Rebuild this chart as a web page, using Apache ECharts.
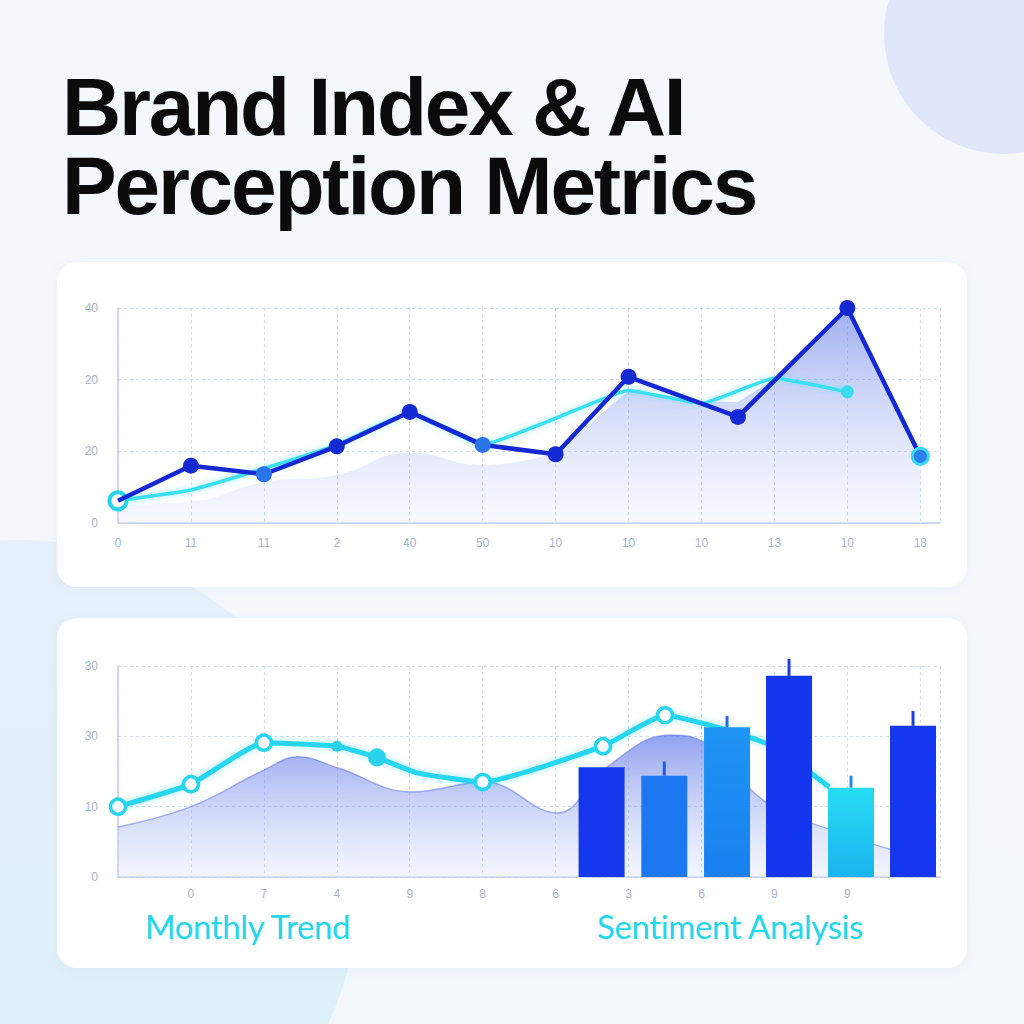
<!DOCTYPE html>
<html>
<head>
<meta charset="utf-8">
<script src="https://cdn.jsdelivr.net/npm/echarts@6/dist/echarts.min.js"></script>
<style>
html, body { margin: 0; padding: 0; }
body {
	width: 1024px; height: 1024px; position: relative; overflow: hidden;
	background: linear-gradient(180deg, #f4f8fd 0%, #f2f7fc 100%);
	font-family: 'Liberation Sans', Arial, sans-serif;
}
.blob1 { position: absolute; left: 884px; top: -86px; width: 240px; height: 240px; border-radius: 50%; background: #e1e7fb; }
.blob2 { position: absolute; left: -320px; top: 540px; width: 680px; height: 680px; border-radius: 50%; background: linear-gradient(180deg, #e7f0fb, #dbf1fa); }
.panel { position: absolute; left: 57px; width: 910px; background: rgba(255,255,255,0.97); border-radius: 20px; box-shadow: 0 2px 12px rgba(120,150,200,0.07); }
#p1 { top: 262px; height: 325px; }
#p2 { top: 618px; height: 350px; }
.title {
	position: absolute; left: 62px; margin: 0; white-space: nowrap;
	font-size: 82px; line-height: 78px; font-weight: bold; color: #0b0b0b; letter-spacing: -2.2px;
}
.tag { position: absolute; top: 905px; font-family: 'Lato', sans-serif; font-size: 33px; line-height: 42px; color: #22d6ec; letter-spacing: -0.4px; }
#chart { position: absolute; left: 0; top: 0; width: 1024px; height: 1024px; }
</style>
</head>
<body>
<div class="blob1"></div>
<div class="blob2"></div>
<div class="panel" id="p1"></div>
<div class="panel" id="p2"></div>
<div class="title" style="top:68px">Brand Index &amp; AI</div>
<div class="title" style="top:147px">Perception Metrics</div>
<div id="chart"></div>
<div class="tag" style="left:145px">Monthly Trend</div>
<div class="tag" style="left:597px">Sentiment Analysis</div>
<script>
// top chart
const topXLabels = ['0', '11', '11', '2', '40', '50', '10', '10', '10', '13', '10', '18']
const topYTicks = ['0', '20', '20', '40']
const brandX = [0, 1, 2, 3, 4, 5, 6, 7, 8.5, 10, 11]
const brandY = [3.1, 8.0, 6.8, 10.7, 15.5, 10.9, 9.6, 20.4, 14.8, 30.0, 9.3]
const perceptX = [0, 1, 2, 3, 4, 5, 6, 7, 8, 9, 10]
const perceptY = [3.1, 4.6, 7.6, 10.9, 15.3, 10.9, 14.6, 18.5, 16.7, 20.2, 18.3]
const fillLeftX = [0, 1, 2, 3, 4, 5, 6]
const fillLeftY = [2.5, 3.0, 5.7, 6.7, 9.8, 8.1, 9.8]
const fillRightX = [6, 7, 8, 8.5, 9, 10, 11]
const fillRightY = [9.8, 18.5, 17.0, 16.9, 20.1, 30, 9.3]

// bottom chart
const bottomXLabels = ['', '0', '7', '4', '9', '8', '6', '3', '6', '9', '9', '']
const bottomYTicks = ['0', '10', '30', '30']
const trendX = [0, 1, 2, 3, 3.55, 4.1, 5, 6.65, 7.5, 8.35, 9, 9.75]
const trendY = [10.0, 13.2, 19.1, 18.6, 17.0, 14.8, 13.5, 18.6, 23.0, 20.9, 18.5, 12.8]
const sentAreaX = [0, 1, 2, 2.47, 3.02, 4.02, 5.03, 6.02, 6.7, 7.56, 7.87, 8.9, 9.77, 10.63]
const sentAreaY = [7.1, 10, 15.2, 17.1, 15.5, 12.1, 13.5, 9.1, 15.6, 20.2, 19.9, 10.5, 6.7, 3.8]
const barX = [6.63, 7.49, 8.35, 9.2, 10.05, 10.9]
const barY = [15.6, 14.4, 21.3, 28.6, 12.7, 21.5]
const errTop = [null, 16.4, 22.9, 31.0, 14.4, 23.6]

function zip(xs, ys) {
	return xs.map(function (x, i) { return [x, ys[i]] })
}

const barColors = [
	'#1538ef',
	'#1b78f1',
	new echarts.graphic.LinearGradient(0, 0, 0, 1, [{ offset: 0, color: '#1e95f3' }, { offset: 1, color: '#1a80f0' }]),
	'#1436ee',
	new echarts.graphic.LinearGradient(0, 0, 0, 1, [{ offset: 0, color: '#27dcf3' }, { offset: 1, color: '#1ab4f0' }]),
	'#1538ee',
]
const whiskerColors = ['#1538ef', '#1a5fe6', '#1a6fe8', '#1a3fe2', '#1a8fe0', '#1a40e4']

const labelStyle = { color: '#a7b4d2', fontSize: 12, fontFamily: 'Liberation Sans' }
const splitStyle = { show: true, lineStyle: { color: '#d2daeb', type: [3, 3], width: 1 } }
const axisLineStyle = { show: true, lineStyle: { color: '#c3cdea', width: 1.5 } }

function xAxisFor(grid, labels, margin) {
	return {
		type: 'value', gridIndex: grid, min: 0, max: 11.27, interval: 1,
		axisLine: axisLineStyle, axisTick: { show: false }, splitLine: splitStyle,
		axisLabel: Object.assign({ margin: margin, formatter: function (v) { return Number.isInteger(v) ? (labels[v] || '') : '' } }, labelStyle),
	}
}
function yAxisFor(grid, ticks) {
	return {
		type: 'value', gridIndex: grid, min: 0, max: 30, interval: 10,
		axisLine: axisLineStyle, axisTick: { show: false }, splitLine: splitStyle,
		axisLabel: Object.assign({ margin: 20, formatter: function (v) { return ticks[v / 10] } }, labelStyle),
	}
}

const topFill = new echarts.graphic.LinearGradient(0, 308, 0, 523, [
	{ offset: 0, color: 'rgba(100,125,232,0.62)' },
	{ offset: 1, color: 'rgba(215,224,252,0.2)' },
], true)
const bottomFill = new echarts.graphic.LinearGradient(0, 735, 0, 877, [
	{ offset: 0, color: 'rgba(98,122,232,0.7)' },
	{ offset: 1, color: 'rgba(220,228,252,0.35)' },
], true)

// brand markers: some points are lighter blue in the picture
const brandData = zip(brandX, brandY).map(function (p, i) {
	let item = { value: p }
	if (i === 0) item.symbolSize = 0
	if (i === 2 || i === 5) item.itemStyle = { color: '#2a74ea' }
	if (i === 10) item.itemStyle = { color: '#2a7ff0', borderColor: '#3ad8f0', borderWidth: 3 }
	return item
})
const perceptData = zip(perceptX, perceptY).map(function (p, i) {
	let item = { value: p, symbolSize: 0 }
	if (i === 0) { item.symbolSize = 17; item.itemStyle = { color: '#ffffff', borderColor: '#27d4ee', borderWidth: 4 } }
	if (i === 10) { item.symbolSize = 13; item.itemStyle = { color: '#3adcf2', borderWidth: 0 } }
	return item
})
const ringIdx = [0, 1, 2, 4, 6, 7, 8]
const trendData = zip(trendX, trendY).map(function (p, i) {
	let item = { value: p, symbolSize: 0 }
	if (ringIdx.indexOf(i) >= 0) item.symbolSize = 15
	if (i === 3) { item.symbolSize = 11; item.itemStyle = { color: '#2bd2ec', borderWidth: 0 } }
	if (i === 4) item.itemStyle = { color: '#2bd2ec', borderColor: '#2bd2ec', borderWidth: 3 }
	return item
})

const option = {
	animation: false,
	backgroundColor: 'transparent',
	grid: [
		{ left: 118, top: 308, width: 822, height: 215 },
		{ left: 118, top: 666, width: 822, height: 211 },
	],
	xAxis: [xAxisFor(0, topXLabels, 14), xAxisFor(1, bottomXLabels, 11)],
	yAxis: [yAxisFor(0, topYTicks), yAxisFor(1, bottomYTicks)],
	series: [
		{
			type: 'line', xAxisIndex: 0, yAxisIndex: 0, z: 1, smooth: 0.5, symbol: 'none',
			lineStyle: { width: 0 }, areaStyle: { color: topFill, opacity: 1 },
			data: zip(fillLeftX, fillLeftY),
		},
		{
			type: 'line', xAxisIndex: 0, yAxisIndex: 0, z: 1, smooth: false, symbol: 'none',
			lineStyle: { width: 0 }, areaStyle: { color: topFill, opacity: 1 },
			data: zip(fillRightX, fillRightY),
		},
		{
			type: 'line', xAxisIndex: 0, yAxisIndex: 0, z: 3, smooth: 0.12, symbol: 'circle',
			lineStyle: { color: '#38e0f2', width: 3.5, shadowBlur: 6, shadowColor: 'rgba(56,224,242,0.5)' },
			itemStyle: { color: '#38e0f2' },
			data: perceptData,
		},
		{
			type: 'line', xAxisIndex: 0, yAxisIndex: 0, z: 4, symbol: 'circle', symbolSize: 16,
			lineStyle: { color: '#1428d4', width: 4.5 },
			itemStyle: { color: '#1429d2' },
			data: brandData,
		},
		{
			type: 'line', xAxisIndex: 1, yAxisIndex: 1, z: 1, smooth: 0.4, symbol: 'none',
			lineStyle: { width: 1.5, color: 'rgba(95,118,230,0.55)' }, areaStyle: { color: bottomFill, opacity: 1 },
			data: zip(sentAreaX, sentAreaY),
		},
		{
			type: 'line', xAxisIndex: 1, yAxisIndex: 1, z: 3, smooth: 0.15, symbol: 'circle',
			lineStyle: { color: '#27d6ee', width: 5, shadowBlur: 6, shadowColor: 'rgba(39,214,238,0.45)' },
			itemStyle: { color: '#ffffff', borderColor: '#27d6ee', borderWidth: 3.5 },
			data: trendData,
		},
		{
			type: 'bar', xAxisIndex: 1, yAxisIndex: 1, z: 5, barWidth: 46,
			data: zip(barX, barY).map(function (p, i) { return { value: p, itemStyle: { color: barColors[i] } } }),
		},
		{
			type: 'custom', xAxisIndex: 1, yAxisIndex: 1, z: 6,
			data: barX.map(function (x, i) { return [x, barY[i], errTop[i] == null ? barY[i] : errTop[i], i] }),
			renderItem: function (params, api) {
				const p0 = api.coord([api.value(0), api.value(1)])
				const p1 = api.coord([api.value(0), api.value(2)])
				return {
					type: 'line',
					shape: { x1: p0[0], y1: p0[1], x2: p1[0], y2: p1[1] },
					style: { stroke: whiskerColors[api.value(3)], lineWidth: 3 },
				}
			},
		},
	],
}

const chart = echarts.init(document.getElementById('chart'), null, { renderer: 'svg' })
chart.setOption(option)
</script>
</body>
</html>
